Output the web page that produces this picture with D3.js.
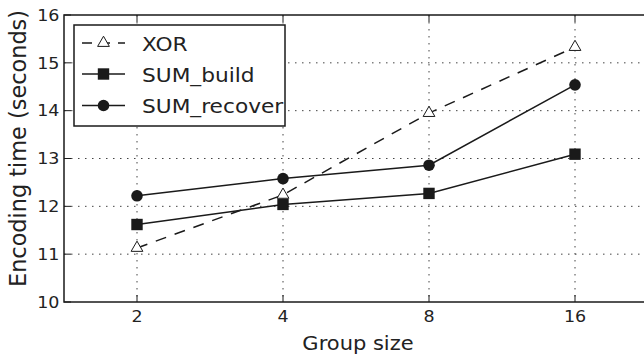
<!DOCTYPE html>
<html>
<head>
<meta charset="utf-8">
<script src="https://cdn.jsdelivr.net/npm/d3@7"></script>
<style>
  html, body { margin: 0; padding: 0; background: #fff; }
  svg { display: block; }
  text { font-family: "DejaVu Sans", sans-serif; fill: #222; }
</style>
</head>
<body>
<svg id="chart" width="644" height="359"></svg>
<script>
// Group sizes on the x axis
const groupSizes = ["2", "4", "8", "16"];
// Encoding time in seconds per scheme
const xorTimes = [11.13, 12.24, 13.95, 15.33];
const sumBuildTimes = [11.62, 12.04, 12.27, 13.09];
const sumRecoverTimes = [12.22, 12.58, 12.86, 14.54];
const yTicks = [10, 11, 12, 13, 14, 15, 16];
const seriesNames = ["XOR", "SUM_build", "SUM_recover"];

const series = [
  { name: seriesNames[0], values: xorTimes, marker: "triangle", dash: "11,9" },
  { name: seriesNames[1], values: sumBuildTimes, marker: "square", dash: null },
  { name: seriesNames[2], values: sumRecoverTimes, marker: "circle", dash: null }
];

const svg = d3.select("#chart");
const plot = { left: 64, right: 648, top: 15, bottom: 302 };
const ink = "#1a1a1a";
const squash = 0.93;

const x = d3.scalePoint().domain(groupSizes).range([plot.left, plot.right]).padding(0.5);
const y = d3.scaleLinear().domain([10, 16]).range([plot.bottom, plot.top]);

// Dotted grid
const grid = svg.append("g");
grid.selectAll("line.gy").data(yTicks.slice(1, -1)).join("line")
  .attr("x1", plot.left).attr("x2", plot.right)
  .attr("y1", d => y(d)).attr("y2", d => y(d))
  .attr("stroke", "#444").attr("stroke-width", 1).attr("stroke-dasharray", "1.5,5.5");
grid.selectAll("line.gx").data(groupSizes).join("line")
  .attr("x1", d => x(d)).attr("x2", d => x(d))
  .attr("y1", plot.top).attr("y2", plot.bottom)
  .attr("stroke", "#444").attr("stroke-width", 1).attr("stroke-dasharray", "1.5,5.5");

// Inward ticks on all sides
const tickLen = 7;
const ticks = svg.append("g").attr("stroke", ink).attr("stroke-width", 1);
groupSizes.forEach(g => {
  ticks.append("line").attr("x1", x(g)).attr("x2", x(g)).attr("y1", plot.bottom).attr("y2", plot.bottom - tickLen);
  ticks.append("line").attr("x1", x(g)).attr("x2", x(g)).attr("y1", plot.top).attr("y2", plot.top + tickLen);
});
yTicks.forEach(t => {
  ticks.append("line").attr("x1", plot.left).attr("x2", plot.left + tickLen).attr("y1", y(t)).attr("y2", y(t));
});

// Axes frame
svg.append("rect")
  .attr("x", plot.left).attr("y", plot.top)
  .attr("width", plot.right - plot.left).attr("height", plot.bottom - plot.top)
  .attr("fill", "none").attr("stroke", ink).attr("stroke-width", 1.5);

// Tick labels
svg.append("g").selectAll("text").data(groupSizes).join("text")
  .attr("transform", d => `translate(${x(d)},321.5) scale(1,${squash})`)
  .attr("text-anchor", "middle").attr("font-size", 17.5).text(d => d);
svg.append("g").selectAll("text").data(yTicks).join("text")
  .attr("transform", d => `translate(59.5,${y(d) + 5.8}) scale(1,${squash})`)
  .attr("text-anchor", "end").attr("font-size", 17.5).text(d => d);

// Axis titles
svg.append("text")
  .attr("transform", `translate(${(plot.left + plot.right) / 2 + 2},350) scale(1,${squash})`)
  .attr("text-anchor", "middle").attr("font-size", 21).text("Group size");
svg.append("text")
  .attr("transform", "translate(26,148.5) rotate(-90)")
  .attr("text-anchor", "middle").attr("font-size", 22.4).text("Encoding time (seconds)");

// Marker drawing
function drawMarker(sel, kind) {
  if (kind === "circle") {
    sel.append("circle").attr("r", 5.8).attr("fill", ink);
  } else if (kind === "square") {
    sel.append("rect").attr("x", -5.7).attr("y", -5.7).attr("width", 11.4).attr("height", 11.4).attr("fill", ink);
  } else {
    sel.append("path")
      .attr("d", d3.symbol().type(d3.symbolTriangle).size(60)())
      .attr("fill", "#fff").attr("stroke", ink).attr("stroke-width", 1);
  }
}

const line = d3.line().x((d, i) => x(groupSizes[i])).y(d => y(d));
const lines = svg.append("g");
series.forEach(s => {
  lines.append("path").datum(s.values)
    .attr("d", line).attr("fill", "none")
    .attr("stroke", ink).attr("stroke-width", 1.5)
    .attr("stroke-dasharray", s.dash);
});
series.forEach(s => {
  s.values.forEach((v, i) => {
    const g = lines.append("g").attr("transform", `translate(${x(groupSizes[i])},${y(v)})`);
    drawMarker(g, s.marker);
  });
});

// Legend
const legend = svg.append("g");
legend.append("rect")
  .attr("x", 74).attr("y", 25).attr("width", 211).attr("height", 101)
  .attr("fill", "#fff").attr("stroke", ink).attr("stroke-width", 1.5);
const rowY = [43, 74, 105.5];
series.forEach((s, i) => {
  const row = legend.append("g").attr("transform", `translate(0,${rowY[i]})`);
  row.append("line").attr("x1", 82).attr("x2", 125).attr("y1", 0).attr("y2", 0)
    .attr("stroke", ink).attr("stroke-width", 1.5)
    .attr("stroke-dasharray", s.dash ? "10,8" : null);
  drawMarker(row.append("g").attr("transform", "translate(103.5,0)"), s.marker);
  row.append("text")
    .attr("transform", `translate(142,7.6) scale(1,${squash})`)
    .attr("font-size", 21.7).text(s.name);
});
</script>
</body>
</html>
